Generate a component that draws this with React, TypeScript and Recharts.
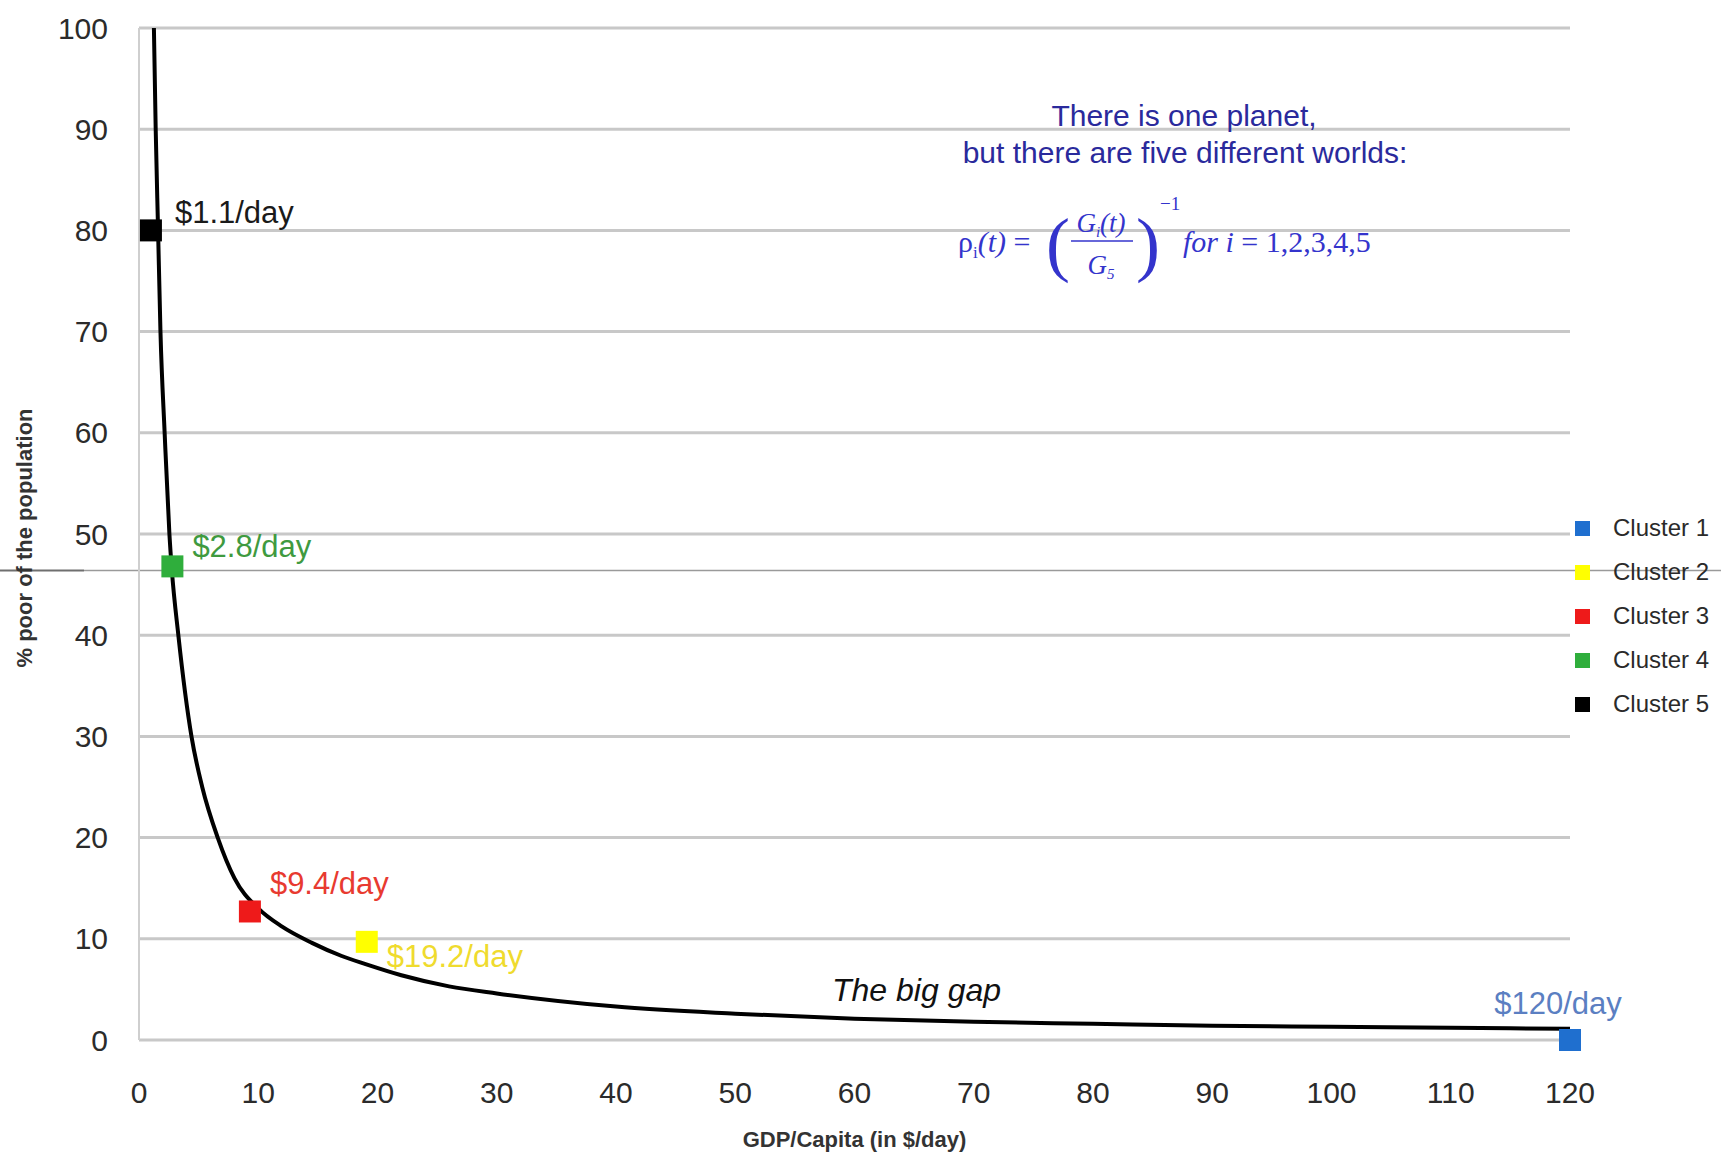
import { ComposedChart, Line, Scatter, XAxis, YAxis, CartesianGrid, Legend, ReferenceLine } from 'recharts';

const W = 1721;
const H = 1155;

const xTicks = [0, 10, 20, 30, 40, 50, 60, 70, 80, 90, 100, 110, 120];
const yTicks = [0, 10, 20, 30, 40, 50, 60, 70, 80, 90, 100];

// curve
const curveX = [1.25, 1.4, 1.6, 1.8, 2.15, 2.55, 2.75, 3.3, 4.4, 5.3, 6.6, 8.0, 10, 12, 14.5, 17, 19, 22, 26, 30, 40, 50, 60, 70, 80, 90, 100, 110, 120];
const curveY = [100, 90, 80, 70, 60, 50, 46.5, 40, 30, 25, 20, 16, 13.0, 11.2, 9.6, 8.3, 7.5, 6.4, 5.3, 4.6, 3.3, 2.6, 2.1, 1.8, 1.6, 1.4, 1.3, 1.2, 1.1];

const clusterNames = ['Cluster 1', 'Cluster 2', 'Cluster 3', 'Cluster 4', 'Cluster 5'];
const clusterGdp = [120, 19.1, 9.3, 2.8, 1.0];
const clusterPoor = [0, 9.7, 12.7, 46.8, 80];
const clusterLabels = ['$120/day', '$19.2/day', '$9.4/day', '$2.8/day', '$1.1/day'];

const markColors = ['#1f6fcf', '#ffff00', '#ee1a1a', '#2fae3c', '#000000'];
const labelColors = ['#5b7fc2', '#efdb2e', '#e83a30', '#3f9a3f', '#1a1a1a'];
const labelOffsets = [
  { dx: -12, dy: -26, anchor: 'middle' },
  { dx: 20, dy: 25, anchor: 'start' },
  { dx: 20, dy: -17, anchor: 'start' },
  { dx: 20, dy: -9, anchor: 'start' },
  { dx: 24, dy: -7, anchor: 'start' },
];

const gapLevel = 46.4;

const FONT = '"Liberation Sans", Arial, Helvetica, sans-serif';
const SERIF = '"Liberation Serif", "Times New Roman", serif';

const curveData = curveX.map((x, i) => ({ x, y: curveY[i] }));

function ClusterMark({ cx, cy, idx }: any) {
  if (cx === undefined || cy === undefined) return null;
  const o = labelOffsets[idx];
  return (
    <g>
      <rect x={cx - 11} y={cy - 11} width={22} height={22} fill={markColors[idx]} />
      <text x={cx + o.dx} y={cy + o.dy} textAnchor={o.anchor} fill={labelColors[idx]} fontSize={31} fontFamily={FONT}>
        {clusterLabels[idx]}
      </text>
    </g>
  );
}

function LegendBox({ payload }: any) {
  const items = (payload || []).filter((p: any) => p.type !== 'none').sort((a: any, b: any) => String(a.value).localeCompare(String(b.value)));
  return (
    <div style={{ fontFamily: FONT }}>
      {items.map((p: any) => (
        <div key={p.value} style={{ display: 'flex', alignItems: 'center', height: 44 }}>
          <span style={{ width: 15, height: 15, background: p.color, display: 'inline-block', marginRight: 23 }} />
          <span style={{ fontSize: 24, color: '#2a2a2a' }}>{p.value}</span>
        </div>
      ))}
    </div>
  );
}

function GapLine(props: any) {
  const y = props.y1;
  return (
    <g>
      <line x1={0} x2={84} y1={y} y2={y} stroke="#6f6f6f" strokeWidth={2} />
      <line x1={84} x2={W} y1={y} y2={y} stroke="#9a9a9a" strokeWidth={1.5} />
    </g>
  );
}

function YTitle({ viewBox }: any) {
  const x = viewBox.x + 18;
  const y = viewBox.y + viewBox.height / 2 + 4;
  return (
    <text x={x} y={y} transform={`rotate(-90 ${x} ${y})`} textAnchor="middle" fontSize={22} fontWeight="bold" fill="#333" fontFamily={FONT}>
      % poor of the population
    </text>
  );
}

export default function App() {
  return (
    <div style={{ position: 'absolute', left: 0, top: 0, width: W, height: H, background: '#fff' }}>
      <ComposedChart width={W} height={H} margin={{ top: 28, right: 151, bottom: 5, left: 14 }}>
        <CartesianGrid vertical={false} stroke="#c8c8c8" strokeWidth={3} />
        <XAxis
          dataKey="x"
          type="number"
          domain={[0, 120]}
          ticks={xTicks}
          height={110}
          axisLine={false}
          tickLine={false}
          tickSize={0}
          tickMargin={42}
          tick={{ fill: '#2b2b2b', fontSize: 30, fontFamily: FONT }}
          label={{ value: 'GDP/Capita (in $/day)', position: 'insideBottom', offset: 3, fill: '#333', fontSize: 22, fontWeight: 'bold', fontFamily: FONT }}
        />
        <YAxis
          dataKey="y"
          type="number"
          domain={[0, 100]}
          ticks={yTicks}
          width={125}
          axisLine={{ stroke: '#cfcfcf', strokeWidth: 2 }}
          tickLine={false}
          tickSize={0}
          tickMargin={31}
          tick={{ fill: '#2b2b2b', fontSize: 30, fontFamily: FONT }}
          label={<YTitle />}
        />
        <ReferenceLine y={gapLevel} shape={<GapLine />} />
        <Line data={curveData} dataKey="y" type="monotone" stroke="#000" strokeWidth={4} dot={false} legendType="none" isAnimationActive={false} />
        {clusterNames.map((name, i) => (
          <Scatter
            key={name}
            name={name}
            data={[{ x: clusterGdp[i], y: clusterPoor[i] }]}
            fill={markColors[i]}
            legendType="square"
            shape={(p: any) => <ClusterMark {...p} idx={i} />}
            isAnimationActive={false}
          />
        ))}
        <Legend
          layout="vertical"
          align="center"
          verticalAlign="middle"
          content={<LegendBox />}
          wrapperStyle={{ left: 1575, top: 506, width: 146 }}
        />
      </ComposedChart>
      <svg width={W} height={H} style={{ position: 'absolute', left: 0, top: 0, pointerEvents: 'none' }}>
        <text x={1184} y={126} textAnchor="middle" fontSize={30} fill="#2a2a9c" fontFamily={FONT}>There is one planet,</text>
        <text x={1185} y={163} textAnchor="middle" fontSize={30} fill="#2a2a9c" fontFamily={FONT}>but there are five different worlds:</text>
        <g fill="#3434cc" fontFamily={SERIF}>
          <text x={958} y={252} fontSize={30}>ρ<tspan fontSize={17} dy={6}>i</tspan><tspan dy={-6} fontStyle="italic">(t)</tspan> =</text>
          <text x={1046} y={268} fontSize={72} fontWeight="normal">(</text>
          <text x={1101} y={232} fontSize={27} textAnchor="middle" fontStyle="italic">G<tspan fontSize={15} dy={5}>i</tspan><tspan dy={-5}>(t)</tspan></text>
          <line x1={1071} x2={1133} y1={241} y2={241} stroke="#3434cc" strokeWidth={1.5} />
          <text x={1101} y={274} fontSize={27} textAnchor="middle" fontStyle="italic">G<tspan fontSize={15} dy={5}>5</tspan></text>
          <text x={1136} y={268} fontSize={72} fontWeight="normal">)</text>
          <text x={1160} y={210} fontSize={19}>−1</text>
          <text x={1183} y={252} fontSize={30}><tspan fontStyle="italic">for</tspan> <tspan fontStyle="italic">i</tspan> = 1,2,3,4,5</text>
        </g>
        <text x={832} y={1001} fontSize={32} fontStyle="italic" fill="#111" fontFamily={FONT}>The big gap</text>
      </svg>
    </div>
  );
}
